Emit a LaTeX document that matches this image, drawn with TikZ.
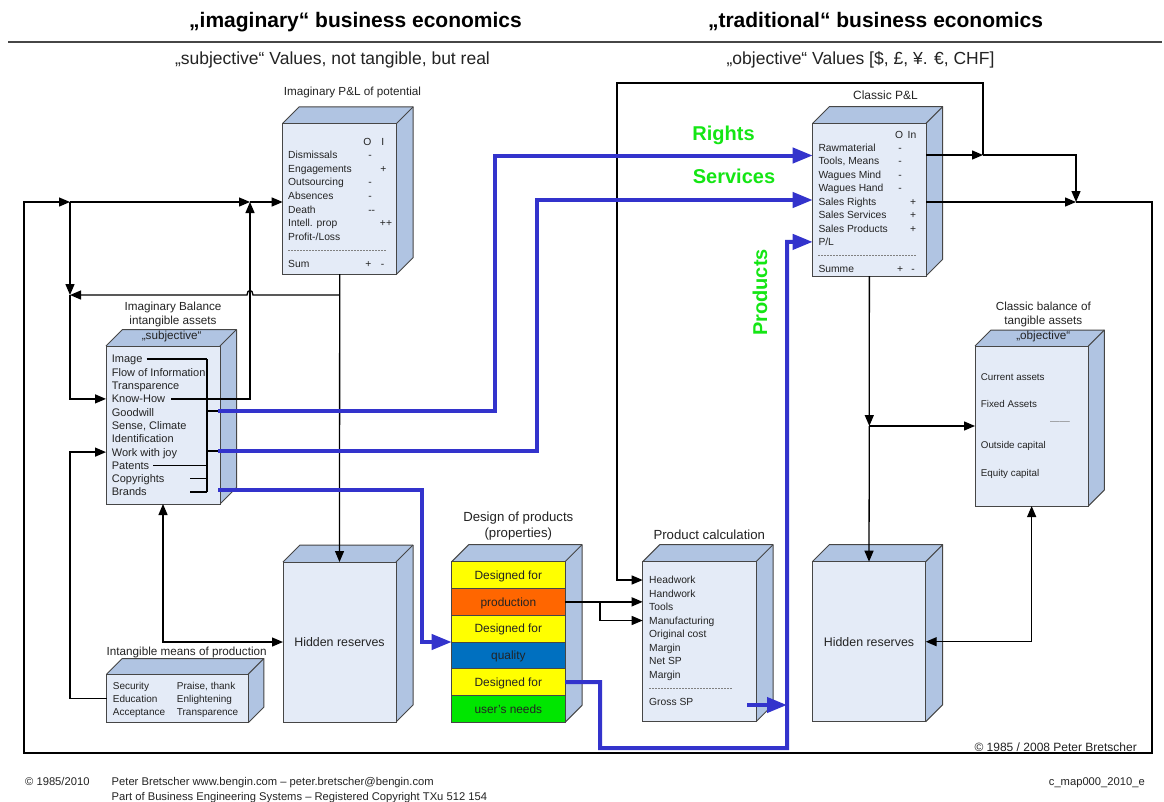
\documentclass[tikz,border=0pt]{standalone}
\usepackage{fontspec}
\setmainfont{Liberation Sans}
\usetikzlibrary{arrows.meta}
\definecolor{facec}{RGB}{176,196,226}
\definecolor{frontc}{RGB}{228,235,247}
\definecolor{edgec}{RGB}{70,70,70}
\definecolor{bl}{RGB}{51,51,204}
\definecolor{grn}{RGB}{20,230,20}
\definecolor{txt}{RGB}{35,35,35}
\definecolor{dyel}{RGB}{255,255,0}
\definecolor{dora}{RGB}{255,102,0}
\definecolor{dblu}{RGB}{0,112,192}
\definecolor{dgrn}{RGB}{0,230,0}
% name, x1, y1, x2, y2, depth
\newcommand\mybox[6]{%
  \fill[facec] (#2,#3) -- ++(#6,-#6) -- ({#4+#6},{#3-#6}) -- ({#4+#6},{#5-#6}) -- (#4,#5) -- (#4,#3) -- cycle;
  \draw[edge] (#2,#3) -- ++(#6,-#6) -- ({#4+#6},{#3-#6}) -- ({#4+#6},{#5-#6}) -- (#4,#5);
  \draw[edge] (#4,#3) -- ({#4+#6},{#3-#6});
  \node[front, anchor=north west, minimum width={(#4-#2)*1pt}, minimum height={(#5-#3)*1pt}] (#1) at (#2,#3) {};
}
\begin{document}
\begin{tikzpicture}[x=1pt,y=-1pt,
 edge/.style={draw=edgec,line width=1pt,line join=round},
 front/.style={draw=edgec,fill=frontc,line width=1pt,inner sep=0pt,outer sep=0pt},
 ln/.style={draw=black,line width=1.3pt},
 arr/.style={ln,-{Triangle[length=11pt,width=9pt]}},
 arrb/.style={ln,{Triangle[length=11pt,width=9pt]}-{Triangle[length=11pt,width=9pt]}},
 bln/.style={draw=bl,line width=4pt},
 barr/.style={bln,-{Triangle[length=20pt,width=15pt]}},
 row/.style={anchor=west,inner sep=0pt,text height=7.4pt,text depth=0pt,font=\fontsize{10.3}{12}\selectfont,text=txt},
 rowb/.style={row,font=\fontsize{11}{13}\selectfont,text height=7.9pt},
 rowc/.style={row,font=\fontsize{9.8}{12}\selectfont,text height=7pt},
 sgn/.style={row,anchor=center},
 ttl/.style={inner sep=0pt,text height=8.4pt,text depth=0pt,font=\fontsize{11.7}{14}\selectfont,text=txt},
 ttlb/.style={ttl,text height=9.4pt,font=\fontsize{13.2}{15}\selectfont},
 hd/.style={inner sep=0pt,text height=15pt,text depth=0pt,font=\fontsize{21}{24}\selectfont\bfseries,text=black},
 sub/.style={inner sep=0pt,text height=12.5pt,text depth=0pt,font=\fontsize{17.5}{20}\selectfont,text=txt},
 grnl/.style={inner sep=0pt,text height=14.3pt,text depth=0pt,font=\fontsize{20}{24}\selectfont\bfseries,text=grn},
 hr/.style={inner sep=0pt,text height=8.9pt,text depth=0pt,font=\fontsize{12.4}{14}\selectfont,text=txt},
 band/.style={draw=edgec,line width=1pt,inner sep=0pt,outer sep=0pt,minimum width=113.3pt,minimum height=26.77pt,anchor=north west,text height=8.6pt,text depth=0pt,font=\fontsize{11.9}{14}\selectfont,text=txt},
 dsh/.style={draw=gray,line width=0.6pt,dash pattern=on 2pt off 1pt},
 ft/.style={anchor=west,inner sep=0pt,text height=8pt,text depth=0pt,font=\fontsize{11.2}{13}\selectfont,text=txt}
]
\useasboundingbox (0,0) rectangle (1164,801);
\fill[white] (0,0) rectangle (1164,801);

% ---------------- headings
\node[hd] (h1) at (355.5,20) {„imaginary“ business economics};
\node[hd] (h2) at (875.5,20) {„traditional“ business economics};
\coordinate (rl) at (8,42);
\coordinate (rr) at (1162,42);
\draw[draw=edgec,line width=1.2pt] (rl) -- (rr);
\node[sub] (s1) at (332.5,58) {„subjective“ Values, not tangible, but real};
\node[sub] (s2) at (860.5,58) {„objective“ Values [\$, £, ¥. €, CHF]};

% ---------------- Imaginary P&L
\mybox{ipl}{282.7}{123.3}{396.7}{274}{16.5}
\node[ttl] (iplt) at (352.5,91) {Imaginary P\&L of potential};
\node[sgn] (iplO) at (367.3,141.7) {O};
\node[sgn] (iplI) at (382.7,141.7) {I};
\foreach \t [count=\i] in {Dismissals,Engagements,Outsourcing,Absences,Death,{Intell. prop},{Profit-/Loss}}
  \node[row] (ipr\i) at (288,{155+13.6*(\i-1)}) {\t};
\node[sgn] (ips1) at (370,155) {-};
\node[sgn] (ips2) at (383.3,168.6) {+};
\node[sgn] (ips3) at (370,182.2) {-};
\node[sgn] (ips4) at (370,195.8) {-};
\node[sgn] (ips5) at (371.7,209.4) {-{}-};
\node[sgn] (ips6) at (386,223) {+{}+};
\coordinate (ipd1) at (288,250.2);
\coordinate (ipd2) at (386,250.2);
\draw[dsh] (ipd1) -- (ipd2);
\node[row] (iprS) at (288,263.8) {Sum};
\node[sgn] (ipsS1) at (368.3,263.8) {+};
\node[sgn] (ipsS2) at (382.7,263.8) {-};

% ---------------- Imaginary Balance
\mybox{imb}{106}{346}{220}{504}{16.5}
\node[ttl] (imbt1) at (173,306) {Imaginary Balance};
\node[ttl] (imbt2) at (173,320.7) {intangible assets};
\node[ttl] (imbt3) at (171.7,335) {„subjective“};
\foreach \t [count=\i] in {Image,Flow of Information,Transparence,Know-How,Goodwill,{Sense, Climate},Identification,Work with joy,Patents,Copyrights,Brands}
  \node[rowb] (imbr\i) at (111.7,{359+13.3*(\i-1)}) {\t};

% ---------------- Classic P&L
\mybox{cpl}{812.7}{123.3}{926}{276}{16.7}
\node[ttl,font=\fontsize{12}{14}\selectfont] (cplt) at (885.5,95) {Classic P\&L};
\node[sgn] (cplO) at (899,134.3) {O};
\node[sgn] (cplI) at (912,134.3) {In};
\foreach \t [count=\i] in {Rawmaterial,{Tools, Means},Wagues Mind,Wagues Hand,Sales Rights,Sales Services,Sales Products,P/L}
  \node[row] (cpr\i) at (818.3,{147.7+13.45*(\i-1)}) {\t};
\foreach \i in {1,2,3,4}
  \node[sgn] (cps\i) at (900,{147.7+13.45*(\i-1)}) {-};
\foreach \i in {5,6,7}
  \node[sgn] (cps\i) at (913,{147.7+13.45*(\i-1)}) {+};
\coordinate (cpd1) at (818.3,255.3);
\coordinate (cpd2) at (916,255.3);
\draw[dsh] (cpd1) -- (cpd2);
\node[row] (cprS) at (818.3,268.8) {Summe};
\node[sgn] (cpsS1) at (900,268.8) {+};
\node[sgn] (cpsS2) at (913,268.8) {-};

% ---------------- Classic balance
\mybox{cbl}{975}{346}{1088.3}{506}{16}
\node[ttl] (cblt1) at (1043.3,306) {Classic balance of};
\node[ttl] (cblt2) at (1043.3,320.7) {tangible assets};
\node[ttl] (cblt3) at (1043.3,335) {„objective“};
\node[rowc] (cbr1) at (980.7,377.3) {Current assets};
\node[rowc] (cbr2) at (980.7,404) {Fixed Assets};
\node[rowc,text=gray] (cbr3) at (1050,421) {——};
\node[rowc] (cbr4) at (980.7,445) {Outside capital};
\node[rowc] (cbr5) at (980.7,473) {Equity capital};

% ---------------- Hidden reserves
\mybox{hrl}{283}{562}{396}{722}{17}
\node[hr] (hrlt) at (hrl.center) {Hidden reserves};
\mybox{hrr}{812.3}{561.7}{925.7}{721.7}{17}
\node[hr] (hrrt) at (hrr.center) {Hidden reserves};

% ---------------- Design of products
\mybox{dop}{451.7}{561.7}{565}{722.3}{17}
\node[ttlb] (dopt1) at (518.3,516.7) {Design of products};
\node[ttlb] (dopt2) at (518.3,532.7) {(properties)};
\node[band,fill=dyel] (dop1) at (451.7,561.7) {Designed for};
\node[band,fill=dora] (dop2) at (451.7,588.47) {production};
\node[band,fill=dyel] (dop3) at (451.7,615.24) {Designed for};
\node[band,fill=dblu] (dop4) at (451.7,642.01) {quality};
\node[band,fill=dyel] (dop5) at (451.7,668.78) {Designed for};
\node[band,fill=dgrn] (dop6) at (451.7,695.55) {user's needs};

% ---------------- Product calculation
\mybox{pc}{642.7}{561.7}{756}{721.7}{17}
\node[ttlb] (pct) at (709.3,535) {Product calculation};
\foreach \t [count=\i] in {Headwork,Handwork,Tools,Manufacturing,Original cost,Margin,Net SP,Margin}
  \node[row] (pcr\i) at (649,{580+13.5*(\i-1)}) {\t};
\coordinate (pcd1) at (649,688);
\coordinate (pcd2) at (731.7,688);
\draw[dsh] (pcd1) -- (pcd2);
\node[row] (pcrG) at (649,701.5) {Gross SP};

% ---------------- Intangible means of production
\mybox{imp}{106.7}{674}{248.3}{722.7}{15.5}
\node[ttl] (impt) at (186.7,651.3) {Intangible means of production};
\node[row,font=\fontsize{10}{12}\selectfont] (imr1) at (112.7,686) {Security};
\node[row,font=\fontsize{10}{12}\selectfont] (imr2) at (112.7,699) {Education};
\node[row,font=\fontsize{10}{12}\selectfont] (imr3) at (112.7,712) {Acceptance};
\node[row,font=\fontsize{10}{12}\selectfont] (imr4) at (176.7,686) {Praise, thank};
\node[row,font=\fontsize{10}{12}\selectfont] (imr5) at (176.7,699) {Enlightening};
\node[row,font=\fontsize{10}{12}\selectfont] (imr6) at (176.7,712) {Transparence};

% ---------------- coordinates
\coordinate (jA) at (70,202);
\coordinate (jB) at (250,202);
\coordinate (jC) at (70,295);
\coordinate (jD) at (339.7,295);
\coordinate (hp1) at (253,295);
\coordinate (hp2) at (247,295);
\coordinate (fTL) at (24,202);
\coordinate (fBL) at (24,753);
\coordinate (fBR) at (1152,753);
\coordinate (fTR) at (1152,202);
\coordinate (jF) at (983,155);
\coordinate (jG) at (1076,202);
\coordinate (tR) at (983,83);
\coordinate (tL) at (617,83);
\coordinate (jH) at (869.3,426);
\coordinate (jI) at (600,601.9);
\coordinate (bk1) at (207,359);
\coordinate (bk2) at (207,492);
\coordinate (cpS) at (190,478.7);
\coordinate (brS) at (190,492);

% ---------------- black connectors
\draw[arr] (jG) -- (fTR) -- (fBR) -- (fBL) -- (fTL) -- (jA);
\draw[arr] (jA) -- (jB);
\draw[arr] (jB) -- (ipl.west |- jB);
\draw[arr] (jA) -- (jC);
\draw[arr] (jD) -- (hp1) .. controls (253,289) and (247,289) .. (hp2) -- (jC);
\draw[arr] (ipl.south) -- (hrl.north);
% bracket in imaginary balance
\draw[ln] (bk1) -- (bk2);
\draw[ln] ([xshift=4pt]imbr1.east) -- (bk1 |- imbr1.east);
\draw[ln] ([xshift=4pt]imbr9.east) -- (bk1 |- imbr9.east);
\draw[ln] (cpS) -- (bk1 |- cpS);
\draw[ln] (brS) -- (bk2);
\draw[arr] ([xshift=6pt]imbr4.east) -- (jB |- imbr4.east) -- (jB);
\draw[arr] (jC) -- (jC |- imbr4.west) -- (imb.west |- imbr4.west);
\draw[arr] (imp.west) -- (jA |- imp.west) -- (jA |- imbr8.west) -- (imb.west |- imbr8.west);
\draw[arrb] (imb.south) -- (imb.south |- hrl.west) -- (hrl.west);
% right side
\draw[arr] (cpl.east |- jF) -- (jF);
\draw[arr] (jF) -- (tR) -- (tL) -- (tL |- pcr1.west) -- (pc.west |- pcr1.west);
\draw[arr] (jF) -- (jF -| jG) -- (jG);
\draw[arr] (cpl.east |- jG) -- (jG);
\draw[arr] (cpl.south) -- (jH);
\draw[arr] (jH) -- (cbl.west |- jH);
\draw[arr] (jH) -- (hrr.north);
\draw[arrb] (hrr.east) -- (cbl.south |- hrr.east) -- (cbl.south);
% design -> product calculation
\draw[arr] (dop2.east) -- (pc.west |- dop2.east);
\draw[arr] (jI) -- (jI |- pcr4.west) -- (pc.west |- pcr4.west);

% ---------------- blue connectors
\coordinate (bq1) at (218,411);
\coordinate (bq2) at (218,451);
\coordinate (bq3) at (218,489.5);
\coordinate (bR1) at (495,411);
\coordinate (bR2) at (495,155.5);
\coordinate (bS1) at (537,451);
\coordinate (bS2) at (537,200);
\coordinate (bD1) at (422,489.5);
\coordinate (bP1) at (600,682.2);
\coordinate (bP2) at (600,748);
\coordinate (bP3) at (787,748);
\coordinate (bP4) at (787,241.9);
\coordinate (gS) at (747,705);
\draw[ln] (bk1 |- bq1) -- (bq1);
\draw[ln] (bk1 |- bq2) -- (bq2);
\draw[barr] (bq1) -- (bR1) -- (bR2) -- (cpl.west |- bR2);
\draw[barr] (bq2) -- (bS1) -- (bS2) -- (cpl.west |- bS2);
\draw[barr] (bq3) -- (bD1) -- (bD1 |- dop.west) -- (dop.west);
\draw[barr] (dop5.east) -- (bP1) -- (bP2) -- (bP3) -- (bP4) -- (cpl.west |- bP4);
\draw[barr] (gS) -- (bP3 |- gS);

% ---------------- green labels
\node[grnl] (gR) at (723.5,133) {Rights};
\node[grnl] (gSv) at (734,176) {Services};
\node[grnl,rotate=90] (gP) at (760,292.5) {Products};

% ---------------- footer
\node[row,font=\fontsize{12}{14}\selectfont,text height=8.6pt,anchor=east] (cpy) at (1137,746.7) {© 1985 / 2008 Peter Bretscher};
\node[ft] (f1) at (25,781) {© 1985/2010};
\node[ft] (f2) at (111.5,781) {Peter Bretscher www.bengin.com – peter.bretscher@bengin.com};
\node[ft] (f3) at (111.5,796) {Part of Business Engineering Systems – Registered Copyright TXu 512 154};
\node[ft,anchor=east] (f4) at (1145,781) {c\_map000\_2010\_e};
\end{tikzpicture}
\end{document}
